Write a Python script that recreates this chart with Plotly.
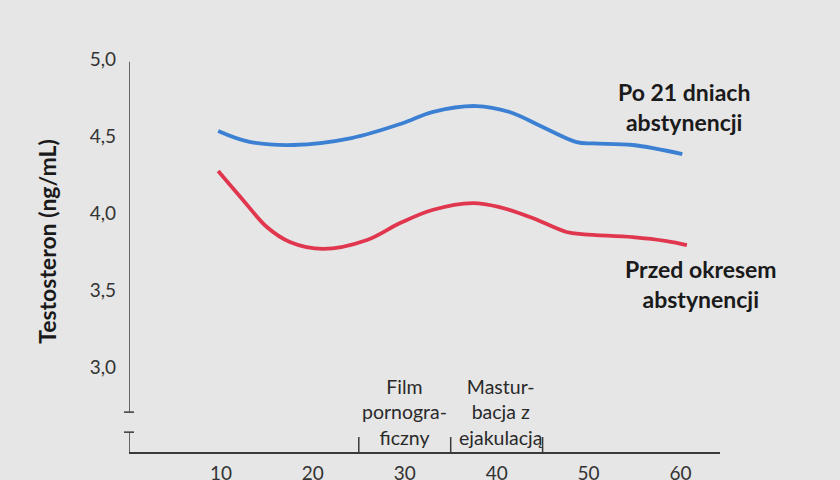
import plotly.graph_objects as go

# Data
blue_x = [9.7, 13.0, 17.9, 24.2, 29.7, 33.0, 37.8, 41.4, 45.0, 48.7, 50.5, 54.8, 60.2]
blue_y = [4.536, 4.467, 4.445, 4.49, 4.585, 4.659, 4.698, 4.659, 4.562, 4.464, 4.455, 4.445, 4.386]

red_x = [9.7, 12.4, 15.0, 17.5, 21.1, 25.9, 29.5, 33.0, 37.4, 40.3, 43.9, 47.6, 49.5, 54.8, 58.5, 60.7]
red_y = [4.276, 4.088, 3.912, 3.815, 3.770, 3.828, 3.938, 4.023, 4.068, 4.042, 3.971, 3.880, 3.865, 3.847, 3.821, 3.795]

x_ticks = [10, 20, 30, 40, 50, 60]
y_ticks = [3.0, 3.5, 4.0, 4.5, 5.0]
bracket_x = [25, 35, 45]

label_blue = "Po 21 dniach<br>abstynencji"
label_red = "Przed okresem<br>abstynencji"
label_film = "Film<br>pornogra-<br>ficzny"
label_mast = "Mastur-<br>bacja z<br>ejakulacją"
y_title = "Testosteron (ng/mL)"

FONT = "Lato, 'Open Sans', sans-serif"
AX = "#3a3a3a"

fig = go.Figure()
fig.add_trace(go.Scatter(x=blue_x, y=blue_y, mode="lines",
                         line=dict(color="#3b80d2", width=3.8, shape="spline", smoothing=1.0),
                         hoverinfo="skip"))
fig.add_trace(go.Scatter(x=red_x, y=red_y, mode="lines",
                         line=dict(color="#e0374f", width=3.8, shape="spline", smoothing=1.0),
                         hoverinfo="skip"))

shapes = []
# y axis with break
shapes.append(dict(type="line", xref="x", yref="y", x0=0, x1=0, y0=4.985, y1=2.71,
                   line=dict(color=AX, width=1.5)))
shapes.append(dict(type="line", xref="paper", yref="y", x0=-5/591, x1=5/591, y0=2.71, y1=2.71,
                   line=dict(color=AX, width=1.5)))
shapes.append(dict(type="line", xref="paper", yref="y", x0=-5/591, x1=5/591, y0=2.58, y1=2.58,
                   line=dict(color=AX, width=1.5)))
shapes.append(dict(type="line", xref="x", yref="y", x0=0, x1=0, y0=2.58, y1=2.451,
                   line=dict(color=AX, width=1.5)))
for bx in bracket_x:
    shapes.append(dict(type="line", xref="x", yref="paper", x0=bx, x1=bx, y0=0, y1=15/402,
                       line=dict(color=AX, width=1.5)))

annotations = [
    dict(text=label_blue, x=60.4, y=4.695, xref="x", yref="y", showarrow=False,
         xanchor="center", yanchor="middle",
         font=dict(family=FONT, size=23, color="#1a1a1a", weight="bold"), align="center"),
    dict(text=label_red, x=62.2, y=3.542, xref="x", yref="y", showarrow=False,
         xanchor="center", yanchor="middle",
         font=dict(family=FONT, size=23, color="#1a1a1a", weight="bold"), align="center"),
    dict(text=label_film, x=30.0, y=2.708, xref="x", yref="y", showarrow=False,
         xanchor="center", yanchor="middle",
         font=dict(family=FONT, size=19.5, color="#2a2a2a"), align="center"),
    dict(text=label_mast, x=40.5, y=2.708, xref="x", yref="y", showarrow=False,
         xanchor="center", yanchor="middle",
         font=dict(family=FONT, size=19.5, color="#2a2a2a"), align="center"),
    dict(text=y_title, x=-0.139, y=0.525, xref="paper", yref="paper", showarrow=False,
         xanchor="center", yanchor="middle",
         textangle=-90, font=dict(family=FONT, size=23, color="#1a1a1a", weight="bold")),
]

fig.update_layout(
    width=840, height=480,
    margin=dict(l=129, r=120, t=50, b=28, autoexpand=False),
    paper_bgcolor="#e6e6e6", plot_bgcolor="#e6e6e6",
    showlegend=False,
    separators=", ",
    font=dict(family=FONT, size=19, color="#333333"),
    shapes=shapes,
    annotations=annotations,
    xaxis=dict(range=[0, 64.3], showgrid=False, zeroline=False, showline=True,
               linecolor=AX, linewidth=1.5, tickvals=x_ticks, ticks="", automargin=False,
               ticklabelstandoff=3, tickfont=dict(family=FONT, size=19, color="#333333")),
    yaxis=dict(range=[2.451, 5.062], showgrid=False, zeroline=False, showline=False,
               tickvals=y_ticks, tickformat=".1f", ticks="", automargin=False,
               ticklabelstandoff=12, tickfont=dict(family=FONT, size=19, color="#333333")),
)

fig.write_html("out.html")
